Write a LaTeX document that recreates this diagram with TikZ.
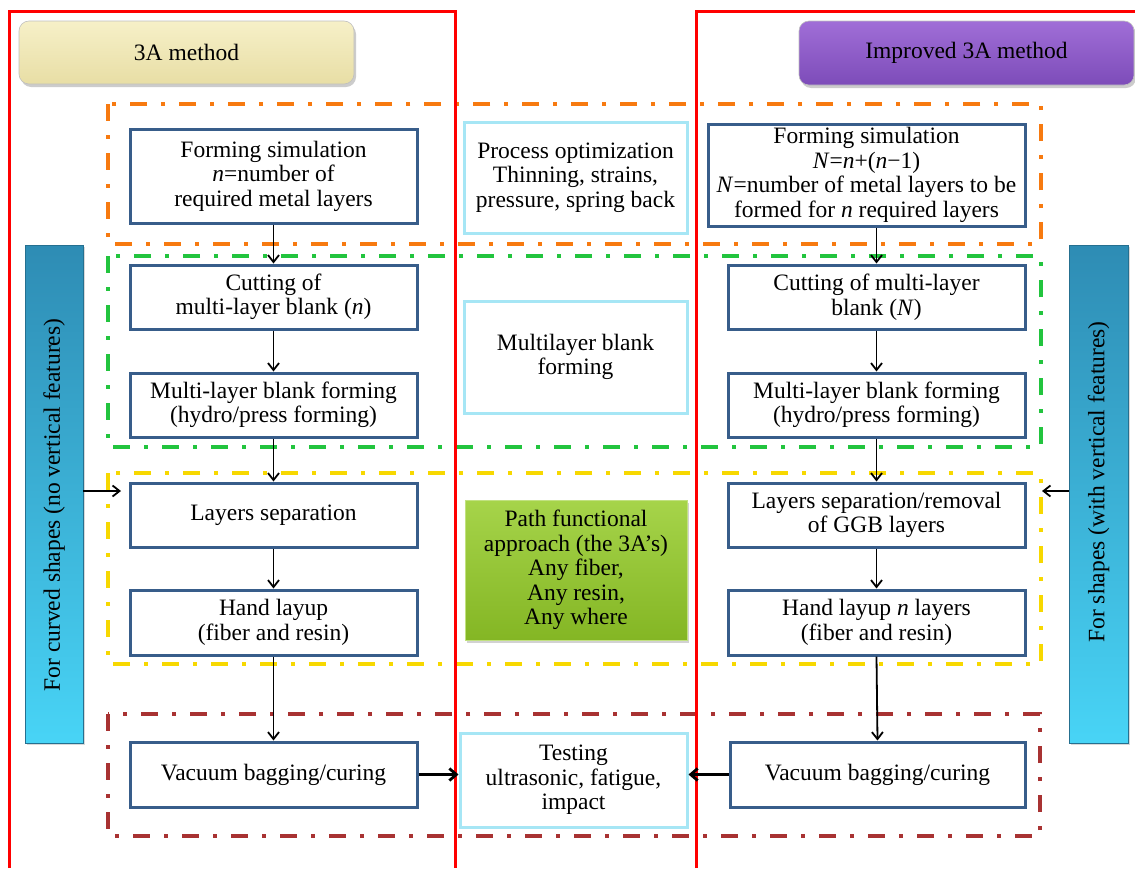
\documentclass[tikz,border=0pt]{standalone}
\usepackage{fontspec}
\setmainfont{Liberation Serif}
\usetikzlibrary{arrows.meta,shadows}
\definecolor{boxblue}{RGB}{56,93,138}
\definecolor{lightcyan}{RGB}{166,230,245}
\definecolor{ddorange}{RGB}{247,122,16}
\definecolor{ddgreen}{RGB}{34,196,62}
\definecolor{ddyellow}{RGB}{247,216,0}
\definecolor{dddarkred}{RGB}{168,50,50}
\definecolor{hdyelTop}{RGB}{246,240,200}
\definecolor{hdyelBot}{RGB}{232,222,165}
\definecolor{hdpurTop}{RGB}{160,110,215}
\definecolor{hdpurBot}{RGB}{125,76,185}
\definecolor{barTop}{RGB}{46,140,180}
\definecolor{barBot}{RGB}{72,212,246}
\definecolor{grnTop}{RGB}{166,212,74}
\definecolor{grnBot}{RGB}{132,182,36}
\begin{document}
\begin{tikzpicture}[x=1pt,y=-1pt,
  every node/.style={font=\fontsize{23.5}{24.5}\selectfont, align=center, inner sep=0pt},
  blbox/.style={draw=boxblue, line width=3pt, fill=white},
  cybox/.style={draw=lightcyan, line width=3pt, fill=white},
  redline/.style={draw=red, line width=3pt},
  dashdot/.style={line width=4.5pt, dash pattern=on 17pt off 14pt on 4pt off 14pt},
  arr/.style={draw=black, line width=1.8pt, -{Straight Barb[length=7pt,width=11pt]}},
  arrthick/.style={draw=black, line width=2.8pt, -{Straight Barb[length=7pt,width=12pt]}},
  header/.style={rounded corners=10pt, draw=black!25, line width=0.6pt,
     drop shadow={opacity=0.4, shadow xshift=2pt, shadow yshift=-3pt}},
  sidebar/.style={draw=barTop!80!black, line width=0.6pt, top color=barTop, bottom color=barBot,
     drop shadow={opacity=0.3, shadow xshift=2pt, shadow yshift=-2pt}},
]
\useasboundingbox (0,0) rectangle (1135,868);
\fill[white] (0,0) rectangle (1135,868);

% dash-dot group frames
\draw[dashdot, ddorange] (108,104) rectangle (1041,244);
\draw[dashdot, ddgreen] (108,256) rectangle (1041,447);
\draw[dashdot, ddyellow] (108,473) rectangle (1041,664);
\draw[dashdot, dddarkred] (108,714) rectangle (1040,836);

% red frames
\draw[redline] (9,868) -- (9,11) -- (455,11) -- (455,868);
\draw[redline] (696,868) -- (696,11) -- (1136,11);

% headers
\node[header, top color=hdyelTop, bottom color=hdyelBot, minimum width=335pt, minimum height=63pt] (h1) at (186.5,52.5) {3A method};
\node[header, top color=hdpurTop, bottom color=hdpurBot, minimum width=335pt, minimum height=64pt] (h2) at (966.5,53) {Improved 3A method};

% side bars
\node[sidebar, minimum width=58pt, minimum height=498pt] (lbar) at (54,494) {};
\node[rotate=90] (ltext) at (54,505) {For curved shapes (no vertical features)};
\node[sidebar, minimum width=59pt, minimum height=498pt] (rbar) at (1098.5,494) {};
\node[rotate=90] (rtext) at (1098.5,482) {For shapes (with vertical features)};

% left column
\node[blbox, minimum width=287pt, minimum height=94pt] (l1) at (273.5,176) {Forming simulation\\\textit{n}=number of\\required metal layers};
\node[blbox, minimum width=287pt, minimum height=64pt] (l2) at (273.5,297) {Cutting of\\multi-layer blank (\textit{n})};
\node[blbox, minimum width=287pt, minimum height=64pt] (l3) at (273.5,405) {Multi-layer blank forming\\(hydro/press forming)};
\node[blbox, minimum width=287pt, minimum height=64pt] (l4) at (273.5,515) {Layers separation};
\node[blbox, minimum width=287pt, minimum height=65pt] (l5) at (273.5,622.5) {Hand layup\\(fiber and resin)};
\node[blbox, minimum width=287pt, minimum height=65pt] (l6) at (273.5,774.5) {Vacuum bagging/curing};

% centre column
\node[cybox, minimum width=223pt, minimum height=111pt] (c1) at (575.5,177.5) {Process optimization\\Thinning, strains,\\pressure, spring back};
\node[cybox, minimum width=223pt, minimum height=112pt] (c2) at (575.5,357) {Multilayer blank\\forming};
\node[draw=grnTop!70!white, line width=0.8pt, top color=grnTop, bottom color=grnBot,
      minimum width=222pt, minimum height=140pt,
      drop shadow={opacity=0.35, shadow xshift=2pt, shadow yshift=-3pt}] (c3) at (576,570)
      {Path functional\\approach (the 3A’s)\\Any fiber,\\Any resin,\\Any where};
\node[cybox, minimum width=227pt, minimum height=94pt] (c4) at (573.5,780) {Testing\\ultrasonic, fatigue,\\impact};

% right column
\node[blbox, minimum width=317pt, minimum height=102pt] (r1) at (866.5,175) {Forming simulation\\\textit{N}=\textit{n}+(\textit{n}−1)\\\textit{N}=number of metal layers to be\\formed for \textit{n} required layers};
\node[blbox, minimum width=297pt, minimum height=64pt] (r2) at (876.5,297) {Cutting of multi-layer\\blank (\textit{N})};
\node[blbox, minimum width=297pt, minimum height=64pt] (r3) at (876.5,405) {Multi-layer blank forming\\(hydro/press forming)};
\node[blbox, minimum width=297pt, minimum height=64pt] (r4) at (876.5,515) {Layers separation/removal\\of GGB layers};
\node[blbox, minimum width=297pt, minimum height=65pt] (r5) at (876.5,622.5) {Hand layup \textit{n} layers\\(fiber and resin)};
\node[blbox, minimum width=295pt, minimum height=65pt] (r6) at (877.5,774.5) {Vacuum bagging/curing};

% connectors left
\draw[arr] (l1) -- (l2);
\draw[arr] (l2) -- (l3);
\draw[arr] (l3) -- (l4);
\draw[arr] (l4) -- (l5);
\draw[arr] (l5) -- (l6);
% connectors right
\draw[arr] (r1.south -| r2) -- (r2.north);
\draw[arr] (r2) -- (r3);
\draw[arr] (r3) -- (r4);
\draw[arr] (r4) -- (r5);
\draw[arr] (r5.south) -- (r6.north);
% bottom
\draw[arrthick] (l6.east) -- (c4.west |- l6.east);
\draw[arrthick] (r6.west) -- (c4.east |- r6.west);
% side arrows
\coordinate (la) at (121,491);
\coordinate (ra) at (1042,491);
\draw[arr] (lbar.east |- la) -- (la);
\draw[arr] (rbar.west |- ra) -- (ra);
\end{tikzpicture}
\end{document}
